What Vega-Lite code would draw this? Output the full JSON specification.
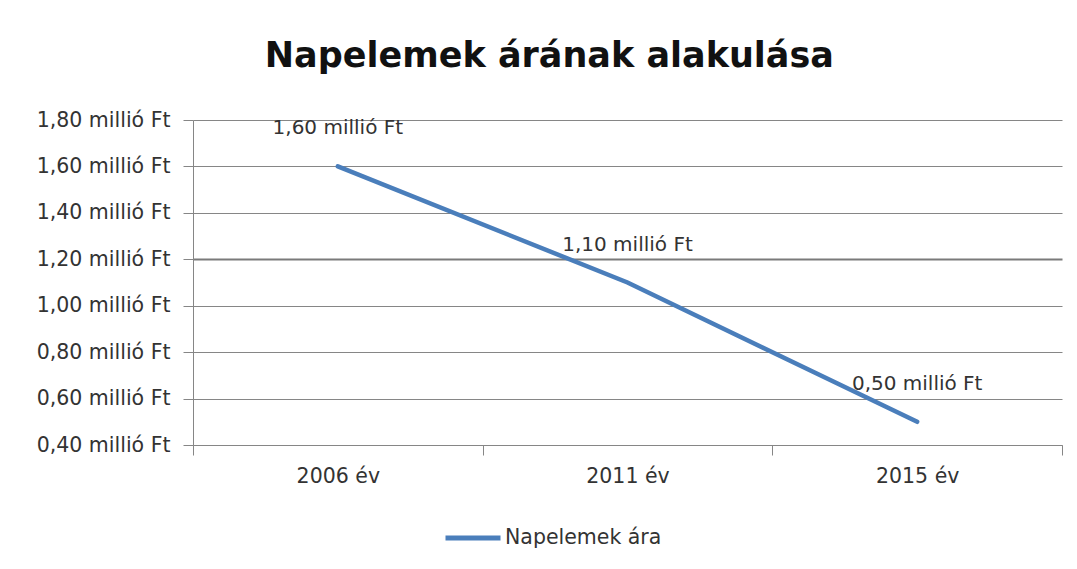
{
  "$schema": "https://vega.github.io/schema/vega-lite/v6.json",
  "width": 869,
  "height": 325,
  "autosize": {"type": "none"},
  "padding": {"left": 193, "top": 120, "right": 15, "bottom": 124},
  "background": "white",
  "title": {
    "text": "Napelemek árának alakulása",
    "font": "DejaVu Sans",
    "fontSize": 35,
    "fontWeight": 600,
    "color": "#111111",
    "anchor": "middle",
    "frame": "bounds",
    "offset": 36
  },
  "data": {
    "values": [
      {"ev": "2006 év", "ar": 1.6, "cimke": "1,60 millió Ft", "sorozat": "Napelemek ára"},
      {"ev": "2011 év", "ar": 1.1, "cimke": "1,10 millió Ft", "sorozat": "Napelemek ára"},
      {"ev": "2015 év", "ar": 0.5, "cimke": "0,50 millió Ft", "sorozat": "Napelemek ára"}
    ]
  },
  "encoding": {
    "x": {
      "field": "ev",
      "type": "ordinal",
      "sort": null,
      "scale": {"type": "band", "paddingInner": 0, "paddingOuter": 0},
      "axis": {
        "title": null,
        "labelAngle": 0,
        "labelFont": "DejaVu Sans",
        "labelFontSize": 20.5,
        "labelColor": "#333333",
        "labelPadding": 11,
        "domainColor": "#868686",
        "tickColor": "#868686",
        "tickSize": 10,
        "tickBand": "extent",
        "grid": false
      }
    },
    "y": {
      "field": "ar",
      "type": "quantitative",
      "scale": {"domain": [0.4, 1.8], "nice": false, "zero": false},
      "axis": {
        "title": null,
        "values": [0.4, 0.6, 0.8, 1.0, 1.2, 1.4, 1.6, 1.8],
        "labelExpr": "replace(format(datum.value, '.2f'), '.', ',') + ' millió Ft'",
        "labelFont": "DejaVu Sans",
        "labelFontSize": 20.5,
        "labelColor": "#333333",
        "labelPadding": 13,
        "domainColor": "#868686",
        "tickColor": "#868686",
        "tickSize": 10,
        "grid": true,
        "gridColor": {"condition": {"test": "datum.value == 1.2", "value": "#7a7a7a"}, "value": "#868686"},
        "gridWidth": {"condition": {"test": "datum.value == 1.2", "value": 2}, "value": 1},
        "gridOpacity": 1
      }
    }
  },
  "layer": [
    {
      "mark": {"type": "line", "strokeWidth": 4.5, "strokeCap": "round"},
      "encoding": {
        "color": {
          "field": "sorozat",
          "type": "nominal",
          "scale": {"range": ["#4a7ebb"]},
          "legend": {
            "title": null,
            "orient": "none",
            "legendX": 250,
            "legendY": 388,
            "symbolType": "stroke",
            "symbolSize": 3025,
            "symbolStrokeWidth": 5,
            "labelFont": "DejaVu Sans",
            "labelFontSize": 20.5,
            "labelColor": "#333333",
            "labelOffset": 2
          }
        }
      }
    },
    {
      "mark": {"type": "text", "dy": -38, "font": "DejaVu Sans", "fontSize": 20, "color": "#333333"},
      "encoding": {"text": {"field": "cimke"}}
    }
  ],
  "config": {"view": {"stroke": null}}
}
